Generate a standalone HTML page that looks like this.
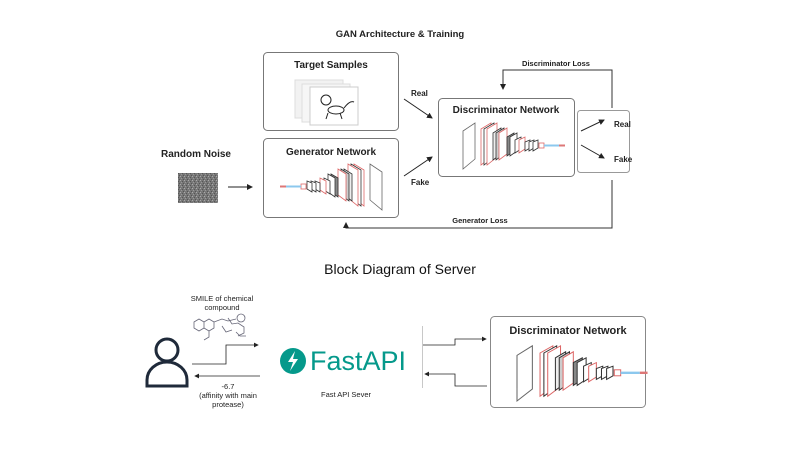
<!DOCTYPE html>
<html><head><meta charset="utf-8"><style>
html,body{margin:0;padding:0;background:#fff;}
svg{display:block;font-family:"Liberation Sans",sans-serif;}
</style></head><body>
<svg width="806" height="453" viewBox="0 0 806 453" xmlns="http://www.w3.org/2000/svg">
<defs>
<pattern id="noise" width="4" height="4" patternUnits="userSpaceOnUse">
<rect width="4" height="4" fill="#777"/><rect x="0" y="0" width="1" height="1" fill="#aaa"/><rect x="2" y="1" width="1" height="1" fill="#555"/><rect x="1" y="2" width="1" height="1" fill="#999"/><rect x="3" y="3" width="1" height="1" fill="#555"/>
</pattern>
<marker id="ar" markerWidth="6" markerHeight="6" refX="5" refY="3" orient="auto"><path d="M0,0 L6,3 L0,6 z" fill="#222"/></marker>
<g id="net">
  <polygon points="0,12 12,4 12,40 0,50" fill="#fff" stroke="#666" stroke-width="0.8"/>
  <polygon points="18,10 28,4 28,38 18,46" fill="#fff" stroke="#d66" stroke-width="0.8"/>
  <polygon points="21,10 31,4 31,38 21,46" fill="#fff" stroke="#333" stroke-width="0.8"/>
  <polygon points="24,10 34,4 34,38 24,46" fill="#fff" stroke="#d66" stroke-width="0.8"/>
  <polygon points="30,14 38,9 38,35 30,41" fill="#eee" stroke="#333" stroke-width="0.8"/>
  <polygon points="33,14 41,9 41,35 33,41" fill="#ccc" stroke="#333" stroke-width="0.8"/>
  <polygon points="36,14 44,9 44,35 36,41" fill="#fff" stroke="#d66" stroke-width="0.8"/>
  <polygon points="44,18 51,14 51,32 44,37" fill="#888" stroke="#333" stroke-width="0.8"/>
  <polygon points="47,18 54,14 54,32 47,37" fill="#fff" stroke="#333" stroke-width="0.8"/>
  <polygon points="52,21 58,18 58,30 52,34" fill="#fff" stroke="#333" stroke-width="0.8"/>
  <polygon points="56,21 62,18 62,30 56,34" fill="#fff" stroke="#d66" stroke-width="0.8"/>
  <polygon points="62,23 67,21 67,29 62,32" fill="#fff" stroke="#333" stroke-width="0.8"/>
  <polygon points="66,23 71,21 71,29 66,32" fill="#fff" stroke="#333" stroke-width="0.8"/>
  <polygon points="70,23 75,21 75,29 70,32" fill="#fff" stroke="#333" stroke-width="0.8"/>
  <rect x="76" y="24" width="5" height="5" fill="#fff" stroke="#d66" stroke-width="0.8"/>
  <line x1="81" y1="26.5" x2="96" y2="26.5" stroke="#8cc8ee" stroke-width="2"/>
  <line x1="96" y1="26.5" x2="102" y2="26.5" stroke="#d77" stroke-width="2"/>
</g>
</defs>

<text x="400" y="37" text-anchor="middle" font-size="9.5" font-weight="bold" fill="#222">GAN Architecture &amp; Training</text>

<text x="196" y="157" text-anchor="middle" font-size="10" font-weight="bold" fill="#222">Random Noise</text>
<rect x="178" y="173" width="40" height="30" fill="url(#noise)"/>
<line x1="228" y1="187" x2="252" y2="187" stroke="#222" stroke-width="1" marker-end="url(#ar)"/>

<rect x="263.5" y="52.5" width="135" height="78" rx="4" fill="#fff" stroke="#777"/>
<text x="331" y="68" text-anchor="middle" font-size="10" font-weight="bold" fill="#222">Target Samples</text>
<rect x="295" y="80" width="48" height="38" fill="#f2f2f2" stroke="#ddd"/>
<rect x="302" y="84" width="48" height="38" fill="#f6f6f6" stroke="#ddd"/>
<rect x="310" y="87" width="48" height="38" fill="#fff" stroke="#ccc"/>
<g fill="none" stroke="#222" stroke-width="1">
<circle cx="326" cy="100" r="5"/><ellipse cx="336" cy="110" rx="8" ry="4"/><path d="M344,108 q6,-8 10,-6"/><path d="M328,113 l-2,6 M340,113 l2,6"/>
</g>

<rect x="263.5" y="138.5" width="135" height="79" rx="4" fill="#fff" stroke="#777"/>
<text x="331" y="155" text-anchor="middle" font-size="10" font-weight="bold" fill="#222">Generator Network</text>
<use href="#net" transform="translate(382,160) scale(-1,1)"/>

<text x="411" y="96" font-size="8" font-weight="bold" fill="#222">Real</text>
<line x1="404" y1="99" x2="432" y2="118" stroke="#222" marker-end="url(#ar)"/>
<text x="411" y="185" font-size="8" font-weight="bold" fill="#222">Fake</text>
<line x1="404" y1="176" x2="432" y2="157" stroke="#222" marker-end="url(#ar)"/>

<rect x="438.5" y="98.5" width="136" height="78" rx="4" fill="#fff" stroke="#777"/>
<text x="506" y="113" text-anchor="middle" font-size="10" font-weight="bold" fill="#222">Discriminator Network</text>
<use href="#net" transform="translate(463,119)"/>

<rect x="577.5" y="110.5" width="52" height="62" rx="3" fill="#fff" stroke="#999"/>
<line x1="581" y1="131" x2="604" y2="120" stroke="#222" marker-end="url(#ar)"/>
<line x1="581" y1="145" x2="604" y2="158" stroke="#222" marker-end="url(#ar)"/>
<text x="614" y="127" font-size="8" font-weight="bold" fill="#222">Real</text>
<text x="614" y="162" font-size="8" font-weight="bold" fill="#222">Fake</text>

<polyline points="612,108 612,70 503,70 503,89" fill="none" stroke="#333" marker-end="url(#ar)"/>
<text x="556" y="66" text-anchor="middle" font-size="7.5" font-weight="bold" fill="#222">Discriminator Loss</text>
<polyline points="612,180 612,228 346,228 346,223" fill="none" stroke="#333" marker-end="url(#ar)"/>
<text x="480" y="223" text-anchor="middle" font-size="7.5" font-weight="bold" fill="#222">Generator Loss</text>

<text x="400" y="274" text-anchor="middle" font-size="14" fill="#111">Block Diagram of Server</text>
<text x="222" y="301" text-anchor="middle" font-size="7.5" fill="#222">SMILE of chemical</text>
<text x="222" y="310" text-anchor="middle" font-size="7.5" fill="#222">compound</text>
<g fill="none" stroke="#667" stroke-width="0.8">
<path d="M194,322 l5,-3 5,3 0,6 -5,3 -5,-3z M204,322 l5,-3 5,3 0,6 -5,3 -5,-3z M204,328 l5,3 0,6 -5,3"/>
<path d="M214,322 l8,-3 6,2 8,-2 M228,318 l4,6 6,-1 6,4 0,6 -6,3"/>
<path d="M222,326 l4,6 6,-2 M236,332 l4,4 6,0"/>
<circle cx="241" cy="318" r="4"/>
</g>
<g fill="none" stroke="#1f2a3a" stroke-width="3">
<circle cx="167" cy="350" r="11"/>
<path d="M147,386 v-6 a20,18 0 0 1 40,0 v6 z"/>
</g>
<polyline points="192,364 226,364 226,345 258,345" fill="none" stroke="#222" stroke-width="0.8" marker-end="url(#ar)"/>
<line x1="260" y1="376" x2="195" y2="376" stroke="#222" stroke-width="0.8" marker-end="url(#ar)"/>
<text x="228" y="389" text-anchor="middle" font-size="7.5" fill="#222">-6.7</text>
<text x="228" y="398" text-anchor="middle" font-size="7.5" fill="#222">(affinity with main</text>
<text x="228" y="407" text-anchor="middle" font-size="7.5" fill="#222">protease)</text>

<circle cx="293" cy="361" r="13" fill="#05998b"/>
<path d="M295,351 l-7,11 h5 l-3,9 l8,-12 h-5 z" fill="#fff"/>
<text x="310" y="370" font-size="27" fill="#05998b">FastAPI</text>
<text x="346" y="397" text-anchor="middle" font-size="7.5" fill="#222">Fast API Sever</text>

<line x1="422.5" y1="326" x2="422.5" y2="388" stroke="#bbb" stroke-width="0.8"/>
<polyline points="423,345 455,345 455,339 486,339" fill="none" stroke="#222" stroke-width="0.8" marker-end="url(#ar)"/>
<polyline points="487,386 455,386 455,374 425,374" fill="none" stroke="#222" stroke-width="0.8" marker-end="url(#ar)"/>

<rect x="490.5" y="316.5" width="155" height="91" rx="4" fill="#fff" stroke="#888"/>
<text x="568" y="334" text-anchor="middle" font-size="11" font-weight="bold" fill="#222">Discriminator Network</text>
<g transform="translate(517,341) scale(1.28,1.2)"><use href="#net"/></g>
</svg>
</body></html>
